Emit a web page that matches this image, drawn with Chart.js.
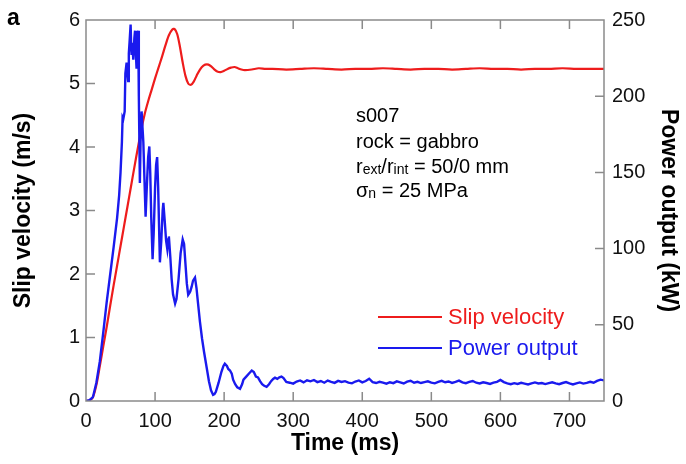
<!DOCTYPE html>
<html>
<head>
<meta charset="utf-8">
<script src="https://cdn.jsdelivr.net/npm/chart.js@4/dist/chart.umd.min.js"></script>
<style>
  html, body { margin: 0; padding: 0; background: #fff; }
  #wrap { width: 686px; height: 464px; position: relative; }
</style>
</head>
<body>
<div id="wrap"><canvas id="c" width="686" height="464"></canvas></div>
<script>
// ---- Data ----
const panelLabel = 'a';
const seriesNames = ['Slip velocity', 'Power output'];
const xTitle = 'Time (ms)';
const yLeftTitle = 'Slip velocity (m/s)';
const yRightTitle = 'Power output (kW)';

// Slip velocity (m/s)
const velT = [0,5,10,15,20,25,30,35,40,45,50,55,60,65,70,75,80,85,90,95,100,105,110,115,120,125,128,132,136,140,144,148,152,156,160,165,170,175,180,185,190,195,200,205,210,215,220,225,230,240,250,260,270,290,310,330,350,370,390,410,430,450,470,490,510,530,550,570,590,610,630,650,670,690,710,730,750];
const velV = [0,0.01,0.06,0.25,0.55,0.86,1.17,1.5,1.82,2.13,2.44,2.75,3.06,3.37,3.68,3.98,4.27,4.52,4.72,4.9,5.08,5.25,5.42,5.6,5.76,5.85,5.86,5.78,5.58,5.33,5.12,5.0,4.98,5.03,5.12,5.22,5.28,5.3,5.28,5.23,5.19,5.18,5.2,5.23,5.25,5.26,5.24,5.22,5.21,5.22,5.24,5.23,5.23,5.22,5.23,5.24,5.23,5.22,5.23,5.23,5.24,5.23,5.22,5.23,5.23,5.22,5.23,5.24,5.23,5.23,5.22,5.23,5.23,5.24,5.23,5.23,5.23];

// Power output (kW)
const powT = [0,5,10,15,20,25,30,35,40,45,48,50,52,53,54,56,57,58.8,60,61,62,63,64.6,65.5,66,67,68.5,70,71,72,73.2,74.5,75.6,76.5,78,79,80.5,82,83,85,86.3,88,90,91.7,93,94.5,96.4,98,100,101.5,103,104.5,106,107,109,111,112,114,116,117.7,119,120,122,124,126,129,131,134,137,140,142,144,146,148,150,151,153,155,157.8,160,162,165,168,171,174.7,178,181,184,186,188,192,196,199,201,204,206,208.5,211,213,216,219,223,226,228,232,236,240,243,246,249,252,255,258,261.5,265,268,271,273.6,277,280,283,286,290,295,
  300,305,310,315,320,325,330,335,340,345,350,355,360,365,370,375,380,385,390,395,400,405,410,415,420,425,430,435,440,445,450,455,460,465,470,475,480,485,490,495,500,505,510,515,520,525,530,535,540,545,550,555,560,565,570,575,580,585,590,595,600,605,610,615,620,625,630,635,640,645,650,655,660,665,670,675,680,685,690,695,700,705,710,715,720,725,730,735,740,745,750];
const powP = [0,0.5,2.5,12,26,45,65,83,101,120,135,150,170,186,185,190,215,222,215,210,228,235,247,232,227,235,224,238,243,230,218,240,243,200,143,170,190,178,170,140,121,140,160,167,150,120,93,110,140,155,160,140,110,91,105,125,130,118,105,99.7,106,108,95,80,70,64,67,80,97,106,103,90,77,69.6,71,72,75,79,81,74,65,52,41,32,22,13,7,4,4.5,6,12,19,23,24.5,23,21,20,18,14,11,9,8,11,14,16,18,20,19,16,15.5,13,11,10,9.3,11,13,14.5,15.3,14.5,15.5,16,15,12.5,12,
  11.4,12.8,13.5,12.2,13.6,12.9,13.8,12.4,13.1,12.0,13.4,12.6,11.9,13.2,12.5,13.0,12.1,11.6,12.8,13.5,12.2,13.1,14.6,12.4,11.8,12.6,12.0,11.4,12.3,11.7,12.9,12.2,11.5,12.7,13.3,12.0,12.6,11.8,12.4,12.9,12.1,11.6,12.5,13.2,12.3,12.8,11.9,12.6,13.4,12.2,11.7,12.5,13.1,12.0,11.5,12.3,11.8,11.2,12.0,12.6,13.8,12.4,11.6,11.0,11.7,11.2,11.9,11.4,10.9,11.6,12.2,11.5,11.8,11.1,11.7,12.3,11.6,11.0,11.8,12.4,11.5,10.9,11.6,12.2,11.4,11.9,12.6,12.0,13.2,14.0,13.5];

// Annotation lines
const infoId = 's007';
const infoRock = 'rock = gabbro';
const infoRadius = ['r', 'ext', '/r', 'int', ' = 50/0 mm'];
const infoStress = ['σ', 'n', ' = 25 MPa'];

// Axis ranges / ticks
const xRange = [0, 750], xStep = 100, xLastTick = 700;
const yLeftRange = [0, 6], yLeftStep = 1;
const yRightRange = [0, 250], yRightStep = 50;

const RED = '#ee1c1c';
const BLUE = '#1a1aee';
const FONT = '"Liberation Sans", Arial, Helvetica, sans-serif';

const framePlugin = {
  id: 'frame',
  afterDatasetsDraw(chart) {
    const ctx = chart.ctx;
    const a = chart.chartArea;
    const sx = chart.scales.x, sy = chart.scales.y, sy1 = chart.scales.y1;
    ctx.save();
    ctx.strokeStyle = '#8a8a8a';
    ctx.lineWidth = 1.5;
    ctx.strokeRect(a.left, a.top, a.right - a.left, a.bottom - a.top);
    const TL = 9;
    ctx.beginPath();
    sx.ticks.forEach(t => {
      const p = sx.getPixelForValue(t.value);
      if (p <= a.left + 1 || p >= a.right - 1) return;
      ctx.moveTo(p, a.bottom); ctx.lineTo(p, a.bottom - TL);
      ctx.moveTo(p, a.top); ctx.lineTo(p, a.top + TL);
    });
    sy.ticks.forEach(t => {
      const p = sy.getPixelForValue(t.value);
      if (p <= a.top + 1 || p >= a.bottom - 1) return;
      ctx.moveTo(a.left, p); ctx.lineTo(a.left + TL, p);
    });
    sy1.ticks.forEach(t => {
      const p = sy1.getPixelForValue(t.value);
      if (p <= a.top + 1 || p >= a.bottom - 1) return;
      ctx.moveTo(a.right, p); ctx.lineTo(a.right - TL, p);
    });
    ctx.stroke();

    // panel label
    ctx.fillStyle = '#000';
    ctx.font = 'bold 23px ' + FONT;
    ctx.textBaseline = 'alphabetic';
    ctx.textAlign = 'left';
    ctx.fillText(panelLabel, 7, 25);

    // annotation text
    const big = '20px ' + FONT, small = '14px ' + FONT;
    const ax = 356;
    ctx.textBaseline = 'alphabetic';
    ctx.font = big;
    ctx.fillText(infoId, ax, 122);
    ctx.fillText(infoRock, ax, 148);
    let x = ax; const y3 = 173;
    infoRadius.forEach((s, i) => {
      const sub = (i === 1 || i === 3);
      ctx.font = sub ? small : big;
      ctx.fillText(s, x, sub ? y3 + 1 : y3);
      x += ctx.measureText(s).width;
    });
    x = ax; const y4 = 197;
    infoStress.forEach((s, i) => {
      const sub = (i === 1);
      ctx.font = sub ? small : big;
      ctx.fillText(s, x, sub ? y4 + 1 : y4);
      x += ctx.measureText(s).width;
    });

    // legend
    ctx.lineWidth = 2;
    const legY = [317, 348];
    const cols = [RED, BLUE];
    ctx.font = '22px ' + FONT;
    ctx.textBaseline = 'middle';
    seriesNames.forEach((n, i) => {
      ctx.strokeStyle = cols[i];
      ctx.beginPath(); ctx.moveTo(378, legY[i]); ctx.lineTo(442, legY[i]); ctx.stroke();
      ctx.fillStyle = cols[i];
      ctx.fillText(n, 448, legY[i] + 1);
    });
    ctx.restore();
  }
};

const velData = velT.map((t, i) => ({x: t, y: velV[i]}));
const powData = powT.map((t, i) => ({x: t, y: powP[i]}));

new Chart(document.getElementById('c'), {
  type: 'line',
  data: {
    datasets: [
      { label: seriesNames[1], data: powData, yAxisID: 'y1', borderColor: BLUE, borderWidth: 2.4, pointRadius: 0, tension: 0, fill: false },
      { label: seriesNames[0], data: velData, yAxisID: 'y', borderColor: RED, borderWidth: 2.2, pointRadius: 0, tension: 0.3, fill: false }
    ]
  },
  options: {
    responsive: false,
    animation: false,
    layout: { padding: { top: 14, left: 0, right: 0, bottom: 0 } },
    plugins: { legend: { display: false }, tooltip: { enabled: false } },
    scales: {
      x: {
        type: 'linear', min: xRange[0], max: xRange[1], bounds: 'data',
        grid: { display: false, drawTicks: false }, border: { display: false },
        ticks: { stepSize: xStep, includeBounds: false, padding: 8, color: '#111', font: { family: FONT, size: 20 }, maxRotation: 0 },
        afterBuildTicks: s => { s.ticks = s.ticks.filter(t => t.value <= xLastTick); },
        title: { display: true, text: xTitle, color: '#000', font: { family: FONT, size: 23, weight: 'bold' }, padding: { top: 0, bottom: 7 } },
        afterFit: s => { s.height = 63; }
      },
      y: {
        position: 'left', min: yLeftRange[0], max: yLeftRange[1],
        grid: { display: false, drawTicks: false }, border: { display: false },
        ticks: { stepSize: yLeftStep, padding: 6, color: '#111', font: { family: FONT, size: 20 } },
        title: { display: true, text: yLeftTitle, color: '#000', font: { family: FONT, size: 23, weight: 'bold' }, padding: { top: 10, bottom: 0 } },
        afterFit: s => { s.width = 86; }
      },
      y1: {
        position: 'right', min: yRightRange[0], max: yRightRange[1],
        grid: { display: false, drawTicks: false }, border: { display: false },
        ticks: { stepSize: yRightStep, padding: 8, color: '#111', font: { family: FONT, size: 20 } },
        title: { display: true, text: yRightTitle, color: '#000', font: { family: FONT, size: 23, weight: 'bold' }, padding: { top: 4, bottom: 0 } },
        afterFit: s => { s.width = 82; }
      }
    }
  },
  plugins: [framePlugin]
});
</script>
</body>
</html>
